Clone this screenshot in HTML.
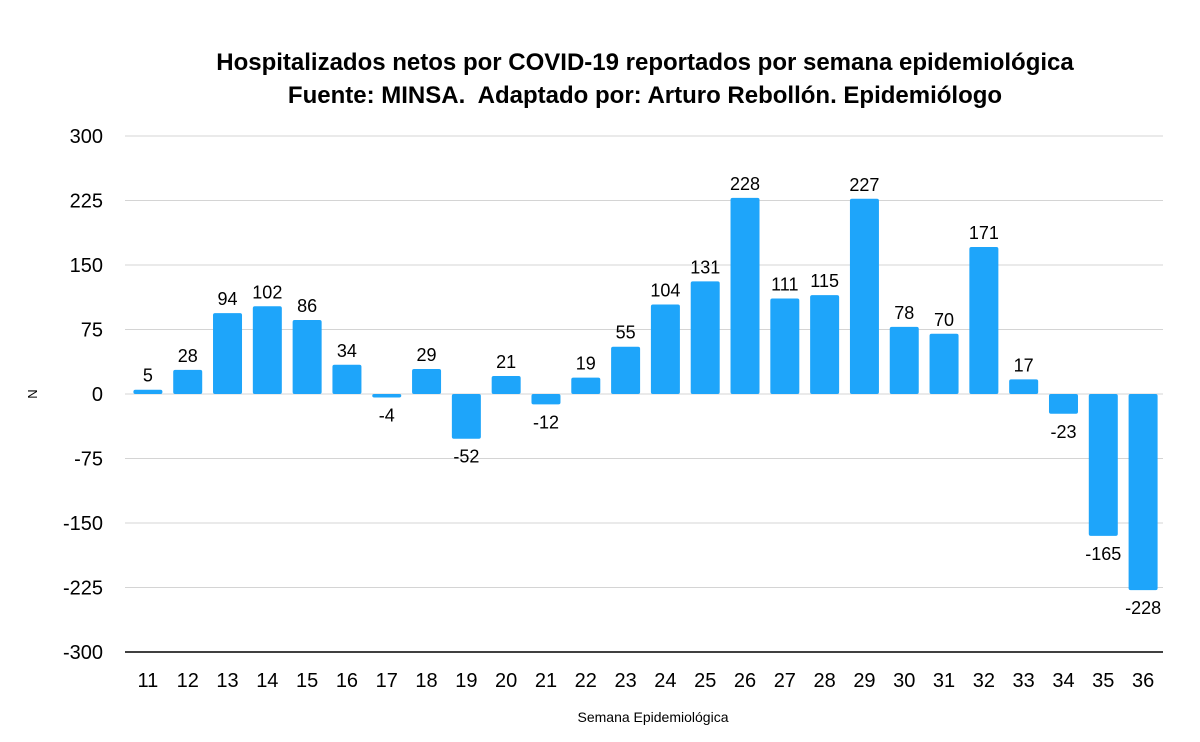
<!DOCTYPE html>
<html><head><meta charset="utf-8"><style>
body{margin:0;background:#fff;}
svg{display:block;font-family:"Liberation Sans",Arial,sans-serif;}
</style></head><body>
<svg id="chart" width="1200" height="742">
<text x="645" y="70" text-anchor="middle" font-size="24" font-weight="bold">Hospitalizados netos por COVID-19 reportados por semana epidemiológica</text>
<text x="645" y="103" text-anchor="middle" font-size="24" font-weight="bold">Fuente: MINSA.&#160; Adaptado por: Arturo Rebollón. Epidemiólogo</text>
<text x="37" y="394" text-anchor="middle" font-size="13" transform="rotate(-90 37 394)">N</text>
<text x="653" y="722" text-anchor="middle" font-size="14">Semana Epidemiológica</text>
<g id="grid"></g><g id="bars"></g><g id="labels"></g>
</svg>
<script>
const categories=["11","12","13","14","15","16","17","18","19","20","21","22","23","24","25","26","27","28","29","30","31","32","33","34","35","36"];
const values=[5,28,94,102,86,34,-4,29,-52,21,-12,19,55,104,131,228,111,115,227,78,70,171,17,-23,-165,-228];
const yTicks=[300,225,150,75,0,-75,-150,-225,-300];
const NS="http://www.w3.org/2000/svg";
const x0=128,x1=1163,yTop=136,yBot=652,yMin=-300,yMax=300;
const band=(x1-x0)/categories.length;
function y(v){return yBot-(v-yMin)/(yMax-yMin)*(yBot-yTop);}
function xc(i){return x0+band*(i+0.5);}
function mk(tag,attrs,parent){const e=document.createElementNS(NS,tag);for(const k in attrs)e.setAttribute(k,attrs[k]);document.getElementById(parent).appendChild(e);return e;}
yTicks.forEach(t=>{
  const l=mk('line',{x1:x0-3,x2:x1,y1:y(t),y2:y(t),stroke:t===yMin?'#000':'#d4d4d4','stroke-width':t===yMin?1.5:1},'grid');
  
  
  const tx=mk('text',{x:103,y:y(t)+7,'text-anchor':'end','font-size':20},'grid');
  tx.textContent=t;
  
  
});
categories.forEach((c,i)=>{
  const v=values[i],bw=29,cx=xc(i);
  const top=Math.min(y(v),y(0)),h=Math.abs(y(v)-y(0));
  const r=mk('rect',{x:cx-bw/2,y:top,width:bw,height:Math.max(h,1),fill:'#1ea5fa',rx:2},'bars');
  
  
  const lb=mk('text',{x:cx,y:v>=0?y(v)-8:y(v)+24,'text-anchor':'middle','font-size':18},'labels');
  lb.textContent=v;
  
  
  const tk=mk('text',{x:cx,y:687,'text-anchor':'middle','font-size':20},'labels');
  tk.textContent=c;
  
  
});
</script>
</body></html>
